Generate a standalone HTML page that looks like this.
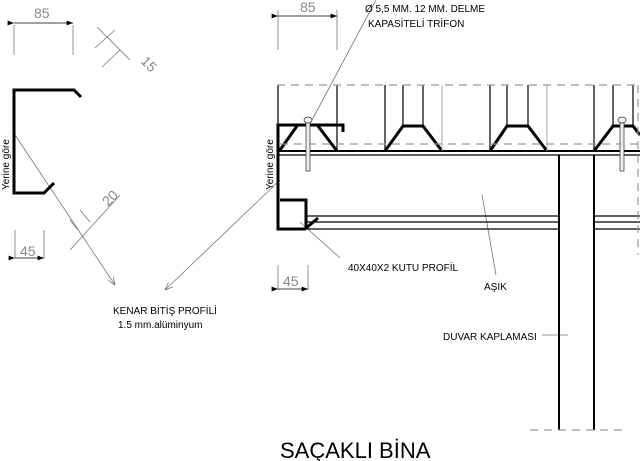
<!DOCTYPE html><html><head><style>body{margin:0;background:#fff}svg{display:block}text{font-family:"Liberation Sans",sans-serif}</style></head><body>
<svg width="640" height="461" viewBox="0 0 640 461" xmlns="http://www.w3.org/2000/svg">
<defs><marker id="a" markerWidth="8" markerHeight="6" refX="8" refY="3" orient="auto"><path d="M0,0L8,3L0,6z" fill="#000"/></marker>
<marker id="o" markerWidth="10" markerHeight="8" refX="10" refY="4" orient="auto"><path d="M0,0L10,4L0,8" fill="none" stroke="#555" stroke-width="0.8"/></marker></defs>
<g stroke="#777" stroke-width="0.8" fill="none">
<!-- left dims -->
<path d="M14,25V55M73,25V55"/><path d="M14,23H73" marker-start="url(#a)" marker-end="url(#a)" stroke="#000"/>
<path d="M97,27L130,60M95,48L115,30M102,67L120,50"/>
<path d="M70,250L120,195M80,210L90,222M70,220L78,230"/>
<path d="M15,230V258M44,230V258"/><path d="M15,258H44" marker-start="url(#a)" marker-end="url(#a)" stroke="#000"/>
<path d="M15,135L115,285" marker-end="url(#o)"/>
<path d="M280,180L165,290" marker-end="url(#o)"/>
<!-- right dims -->
<path d="M278,10V50M337,10V50"/><path d="M278,16H337" marker-start="url(#a)" marker-end="url(#a)" stroke="#000"/>
<path d="M278,265V290M308,265V290"/><path d="M278,289H308" marker-start="url(#a)" marker-end="url(#a)" stroke="#000"/>
<path d="M312,120L376,0M300,222L340,258M482,195L496,275M542,335H568"/>
</g>
<g stroke="#000" stroke-width="3" fill="none">
<path d="M81,97L74,90H14V193H44L54,183"/>
<path d="M318,218L305,229H278V125H343L343,132"/>
<path d="M280,200H306V229"/>
<path d="M280,150L297,126M318,126L337,151M385,151L403,126H423L442,151M490,151L507,126H528L547,151M594,151L613,126H633L640,135"/>
<path d="M278,151H640" stroke-width="2"/>
</g>
<g stroke="#000" stroke-width="1.2" fill="none">
<path d="M278,85V125M337,85V151M385,85V151M403,85V126M423,85V126M490,85V151M507,85V126M528,85V126M594,85V151M613,85V126M633,85V126"/>
<path d="M278,155H640M307,216H559M307,222H559M307,229H559M594,216H640M594,222H640M594,229H640"/>
<path d="M559,155V430M594,155V430" stroke-width="2"/>
</g>
<g stroke="#999" stroke-width="1.2" fill="none" stroke-dasharray="8,6">
<path d="M277,85H640M280,144H640M530,430H625M638,85V255"/>
</g>
<path d="M442,85V151M547,85V151" stroke="#aaa"/>
<g fill="#eee" stroke="#444" stroke-width="0.8"><ellipse cx="308" cy="120" rx="4" ry="3"/><rect x="306" y="123" width="4" height="48"/><ellipse cx="622" cy="120" rx="4" ry="3"/><rect x="620" y="123" width="4" height="48"/></g>
<g fill="#888" font-size="14"><text x="34" y="18">85</text><text x="300" y="12">85</text><text x="20" y="256">45</text><text x="283" y="286">45</text>
<text transform="translate(140,62) rotate(45)">15</text><text transform="translate(108,207) rotate(-45)">20</text></g>
<g font-size="10" fill="#000">
<text transform="translate(9,190) rotate(-90)">Yerine göre</text>
<text transform="translate(273,190) rotate(-90)">Yerine göre</text>
<text x="113" y="314">KENAR BİTİŞ PROFİLİ</text><text x="118" y="328">1.5 mm.alüminyum</text>
<text x="365" y="12">Ø 5,5 MM. 12 MM. DELME</text><text x="368" y="27">KAPASİTELİ TRİFON</text>
<text x="348" y="271">40X40X2 KUTU PROFİL</text><text x="484" y="290">AŞIK</text><text x="443" y="340">DUVAR KAPLAMASI</text>
</g>
<text x="280" y="458" font-size="22">SAÇAKLI BİNA</text>
</svg></body></html>
